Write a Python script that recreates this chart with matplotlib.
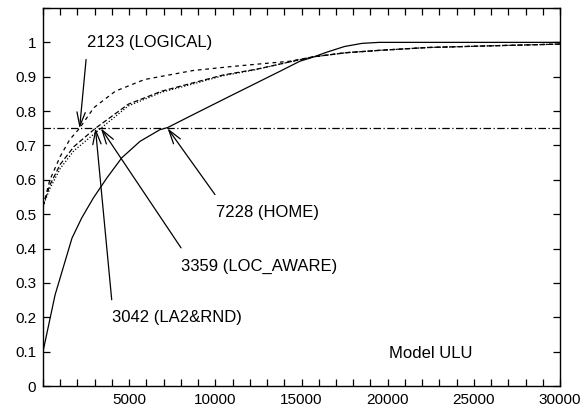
import matplotlib
matplotlib.use("Agg")
import matplotlib.pyplot as plt
from matplotlib.ticker import MultipleLocator, FuncFormatter

plt.rcParams['font.family'] = ['Liberation Sans', 'DejaVu Sans']

# curves
home_x = [0, 700, 1680, 2245, 2920, 3700, 4570, 5630, 6790, 7228, 9000, 11030,
          13755, 14900, 15670, 16500, 17500, 18500, 19500, 30000]
home_y = [0.1, 0.265, 0.43, 0.489, 0.547, 0.605, 0.664, 0.712, 0.746, 0.752, 0.797,
          0.848, 0.916, 0.945, 0.957, 0.972, 0.988, 0.997, 1.0, 1.0]

logical_x = [0, 400, 1000, 1550, 2123, 2950, 4200, 5900, 8700, 11000, 14300,
             15700, 17600, 19600, 22300, 26000, 30000]
logical_y = [0.523, 0.60, 0.668, 0.717, 0.75, 0.81, 0.858, 0.892, 0.918, 0.93, 0.945,
             0.958, 0.97, 0.977, 0.985, 0.99, 0.995]

la2rnd_x = [0, 400, 1000, 1800, 3042, 4950, 6890, 8700, 10450, 12400, 14300,
            15700, 17600, 19600, 22300, 26000, 30000]
la2rnd_y = [0.523, 0.585, 0.645, 0.697, 0.75, 0.82, 0.858, 0.882, 0.905, 0.922, 0.943,
            0.958, 0.97, 0.977, 0.985, 0.99, 0.995]

locaware_x = [0, 400, 1000, 1800, 3359, 4950, 6890, 8700, 10450, 12400, 14300,
              15700, 17600, 19600, 22300, 26000, 30000]
locaware_y = [0.523, 0.575, 0.633, 0.685, 0.75, 0.815, 0.855, 0.879, 0.903, 0.921, 0.943,
              0.958, 0.97, 0.977, 0.985, 0.99, 0.995]

threshold = 0.75

# (label, text x, text y, arrow tail, arrow head)
labels = [
    ("2123 (LOGICAL)", 2550, 1.0, (2500, 0.95), (2123, 0.75)),
    ("7228 (HOME)", 10040, 0.504, (9980, 0.557), (7228, 0.75)),
    ("3359 (LOC_AWARE)", 8010, 0.347, (8010, 0.402), (3359, 0.75)),
    ("3042 (LA2&RND)", 4000, 0.20, (3987, 0.251), (3042, 0.75)),
]

fig = plt.figure(figsize=(5.84, 4.13), dpi=100)
ax = fig.add_axes([43 / 584, 27 / 413, 517 / 584, 378 / 413])

lw = 0.9
ax.plot(home_x, home_y, color='black', lw=lw)
ax.plot(logical_x, logical_y, color='black', lw=lw, dashes=(3, 3))
ax.plot(locaware_x, locaware_y, color='black', lw=lw, dashes=(1, 1.5))
ax.plot(la2rnd_x, la2rnd_y, color='black', lw=lw, dashes=(4, 2))
ax.axhline(threshold, color='black', lw=lw, dashes=(6, 2, 1, 2))

for text, tx, ty, tail, head in labels:
    ax.text(tx, ty, text, fontsize=12, va='center', ha='left')
    ax.annotate('', xy=head, xytext=tail,
                arrowprops=dict(arrowstyle='->,head_length=1.0,head_width=0.3',
                                color='black', lw=lw, shrinkA=0, shrinkB=0))

ax.text(20080, 0.096, "Model ULU", fontsize=12, va='center', ha='left')

ax.set_xlim(0, 30000)
ax.set_ylim(0, 1.1)
ax.xaxis.set_major_locator(MultipleLocator(1000))
ax.xaxis.set_major_formatter(FuncFormatter(
    lambda v, p: f"{int(v)}" if v > 0 and int(v) % 5000 == 0 else ""))
ax.yaxis.set_major_locator(MultipleLocator(0.1))
ax.yaxis.set_major_formatter(FuncFormatter(
    lambda v, p: "" if v > 1.05 else f"{v:g}"))
ax.tick_params(direction='in', length=5, width=0.9, top=True, right=True,
               labelsize=11, pad=5)
for s in ax.spines.values():
    s.set_linewidth(1.0)

fig.savefig("out.png", dpi=100)
